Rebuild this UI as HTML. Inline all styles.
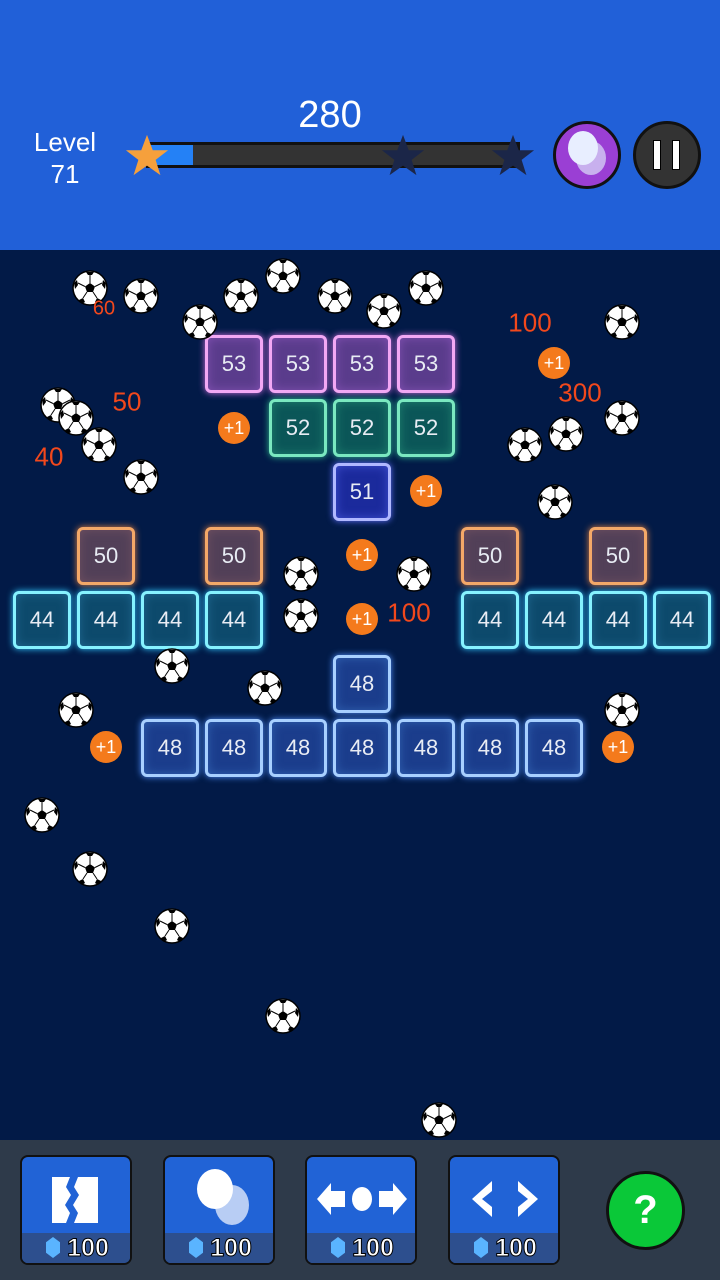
<!DOCTYPE html>
<html><head><meta charset="utf-8"><style>
*{margin:0;padding:0;box-sizing:border-box}
body{width:720px;height:1280px;position:relative;overflow:hidden;background:#021a47;font-family:"Liberation Sans",sans-serif}
#hdr{position:absolute;left:0;top:0;width:720px;height:250px;background:#2160d8}
#bot{position:absolute;left:0;top:1140px;width:720px;height:140px;background:#2e3a4a}
.a{position:absolute}
.b{position:absolute;width:58px;height:58px;border-radius:6px;border:3px solid;color:#e8ecf4;font-size:22px;text-align:center;line-height:52px}
.p{background:#5a3c8c;border-color:#f2a8f4;box-shadow:0 0 7px #d070e0, inset 0 0 10px #8050b0}
.t{background:#0b5658;border-color:#7ae8c0;box-shadow:0 0 7px #30c090, inset 0 0 10px #208070}
.u{background:#1b2a9c;border-color:#b0b8ff;box-shadow:0 0 7px #6070ff, inset 0 0 10px #4050d0}
.o{background:#524058;border-color:#f4a868;box-shadow:0 0 7px #e08040, inset 0 0 10px #705060}
.c{background:#0d4a6c;border-color:#86f2ff;box-shadow:0 0 7px #30c8ff, inset 0 0 10px #206890}
.l{background:#1b3d8c;border-color:#a8d0ff;box-shadow:0 0 7px #5090ff, inset 0 0 10px #3060b0}
.pl{position:absolute;width:32px;height:32px;border-radius:50%;background:#f47a1c;color:#fff;font-size:18px;text-align:center;line-height:32px;margin:-16px 0 0 -16px}
.r{position:absolute;color:#f2481c;font-size:26px;transform:translate(-50%,-50%)}
.ball{position:absolute;width:36px;height:36px;margin:-18px 0 0 -18px}
.btn{position:absolute;top:1155px;width:112px;height:110px;border:2px solid #111;border-radius:8px;background:#2163d6;overflow:hidden}
.btn .pr{position:absolute;left:0;bottom:0;width:100%;height:30px;background:#2d4f8e;color:#fff;font-size:25px;font-weight:bold;text-align:center;line-height:30px;-webkit-text-stroke:1px #000;padding-left:24px}
.gem{position:absolute;left:24px;bottom:5px;width:14px;height:21px;background:#5ab4ff;clip-path:polygon(50% 0,100% 25%,100% 75%,50% 100%,0 75%,0 25%);z-index:2}
</style></head><body>
<svg width="0" height="0" style="position:absolute"><defs>
<g id="sb"><circle cx="18" cy="18" r="17" fill="#fff" stroke="#000" stroke-width="1.5"/>
<polygon points="18,13 23,16.5 21,22 15,22 13,16.5" fill="#000"/>
<path d="M14,2 L22,2 L20,5 L16,5Z M2,13 L5,10 L6,15 L3,19Z M34,13 L31,10 L30,15 L33,19Z M7,30 L11,28 L13,32 L10,34Z M29,30 L25,28 L23,32 L26,34Z" fill="#000"/>
<path d="M18,13 L18,5 M23,16.5 L30,13 M21,22 L25,28 M15,22 L11,28 M13,16.5 L6,13" stroke="#000" stroke-width="1"/></g></defs></svg>
<div id="hdr"></div>
<div class="a" style="left:32px;top:126px;color:#fff;font-size:26px;text-align:center;line-height:32px;width:66px">Level<br>71</div>
<div class="a" style="left:0;top:94px;width:660px;text-align:center;color:#fff;font-size:38px">280</div>
<div class="a" style="left:146px;top:142px;width:374px;height:26px;background:#333;border:3px solid #111"></div>
<div class="a" style="left:149px;top:145px;width:44px;height:20px;background:#2481f6"></div>
<svg class="a" style="left:124px;top:133px" width="46" height="46" viewBox="0 0 24 24"><polygon points="12,1 15,9 23,9 16.5,14 19,22 12,17 5,22 7.5,14 1,9 9,9" fill="#f6a03c"/></svg>
<svg class="a" style="left:380px;top:133px" width="46" height="46" viewBox="0 0 24 24"><polygon points="12,1 15,9 23,9 16.5,14 19,22 12,17 5,22 7.5,14 1,9 9,9" fill="#1b2648"/></svg>
<svg class="a" style="left:490px;top:133px" width="46" height="46" viewBox="0 0 24 24"><polygon points="12,1 15,9 23,9 16.5,14 19,22 12,17 5,22 7.5,14 1,9 9,9" fill="#1b2648"/></svg>
<div class="a" style="left:553px;top:121px;width:68px;height:68px;border-radius:50%;background:#9a3fd4;border:3px solid #111"></div>
<div class="a" style="left:576px;top:141px;width:30px;height:34px;border-radius:50%;background:#c8b0ee"></div>
<div class="a" style="left:568px;top:131px;width:30px;height:34px;border-radius:50%;background:#e8eeff"></div>
<div class="a" style="left:633px;top:121px;width:68px;height:68px;border-radius:50%;background:#333;border:3px solid #111"></div>
<div class="a" style="left:653px;top:140px;width:8px;height:30px;background:#fff;border:1px solid #000"></div>
<div class="a" style="left:672px;top:140px;width:8px;height:30px;background:#fff;border:1px solid #000"></div>

<div class="b p" style="left:205px;top:335px">53</div><div class="b p" style="left:269px;top:335px">53</div><div class="b p" style="left:333px;top:335px">53</div><div class="b p" style="left:397px;top:335px">53</div>
<div class="b t" style="left:269px;top:399px">52</div><div class="b t" style="left:333px;top:399px">52</div><div class="b t" style="left:397px;top:399px">52</div>
<div class="b u" style="left:333px;top:463px">51</div>
<div class="b o" style="left:77px;top:527px">50</div><div class="b o" style="left:205px;top:527px">50</div><div class="b o" style="left:461px;top:527px">50</div><div class="b o" style="left:589px;top:527px">50</div>
<div class="b c" style="left:13px;top:591px">44</div><div class="b c" style="left:77px;top:591px">44</div><div class="b c" style="left:141px;top:591px">44</div><div class="b c" style="left:205px;top:591px">44</div><div class="b c" style="left:461px;top:591px">44</div><div class="b c" style="left:525px;top:591px">44</div><div class="b c" style="left:589px;top:591px">44</div><div class="b c" style="left:653px;top:591px">44</div>
<div class="b l" style="left:333px;top:655px">48</div>
<div class="b l" style="left:141px;top:719px">48</div><div class="b l" style="left:205px;top:719px">48</div><div class="b l" style="left:269px;top:719px">48</div><div class="b l" style="left:333px;top:719px">48</div><div class="b l" style="left:397px;top:719px">48</div><div class="b l" style="left:461px;top:719px">48</div><div class="b l" style="left:525px;top:719px">48</div>

<div class="pl" style="left:234px;top:428px">+1</div><div class="pl" style="left:554px;top:363px">+1</div><div class="pl" style="left:426px;top:491px">+1</div><div class="pl" style="left:362px;top:555px">+1</div><div class="pl" style="left:362px;top:619px">+1</div><div class="pl" style="left:106px;top:747px">+1</div><div class="pl" style="left:618px;top:747px">+1</div>

<svg class="ball" style="left:90px;top:288px"><use href="#sb"/></svg>
<svg class="ball" style="left:141px;top:296px"><use href="#sb"/></svg>
<svg class="ball" style="left:241px;top:296px"><use href="#sb"/></svg>
<svg class="ball" style="left:283px;top:276px"><use href="#sb"/></svg>
<svg class="ball" style="left:335px;top:296px"><use href="#sb"/></svg>
<svg class="ball" style="left:384px;top:311px"><use href="#sb"/></svg>
<svg class="ball" style="left:426px;top:288px"><use href="#sb"/></svg>
<svg class="ball" style="left:200px;top:322px"><use href="#sb"/></svg>
<svg class="ball" style="left:622px;top:322px"><use href="#sb"/></svg>
<svg class="ball" style="left:58px;top:405px"><use href="#sb"/></svg>
<svg class="ball" style="left:76px;top:418px"><use href="#sb"/></svg>
<svg class="ball" style="left:99px;top:445px"><use href="#sb"/></svg>
<svg class="ball" style="left:141px;top:477px"><use href="#sb"/></svg>
<svg class="ball" style="left:566px;top:434px"><use href="#sb"/></svg>
<svg class="ball" style="left:525px;top:445px"><use href="#sb"/></svg>
<svg class="ball" style="left:622px;top:418px"><use href="#sb"/></svg>
<svg class="ball" style="left:555px;top:502px"><use href="#sb"/></svg>
<svg class="ball" style="left:301px;top:574px"><use href="#sb"/></svg>
<svg class="ball" style="left:414px;top:574px"><use href="#sb"/></svg>
<svg class="ball" style="left:301px;top:616px"><use href="#sb"/></svg>
<svg class="ball" style="left:172px;top:666px"><use href="#sb"/></svg>
<svg class="ball" style="left:265px;top:688px"><use href="#sb"/></svg>
<svg class="ball" style="left:76px;top:710px"><use href="#sb"/></svg>
<svg class="ball" style="left:622px;top:710px"><use href="#sb"/></svg>
<svg class="ball" style="left:42px;top:815px"><use href="#sb"/></svg>
<svg class="ball" style="left:90px;top:869px"><use href="#sb"/></svg>
<svg class="ball" style="left:172px;top:926px"><use href="#sb"/></svg>
<svg class="ball" style="left:283px;top:1016px"><use href="#sb"/></svg>
<svg class="ball" style="left:439px;top:1120px"><use href="#sb"/></svg>

<div class="r" style="left:104px;top:309px;font-size:20px">60</div>
<div class="r" style="left:530px;top:323px">100</div>
<div class="r" style="left:127px;top:402px">50</div>
<div class="r" style="left:580px;top:393px">300</div>
<div class="r" style="left:49px;top:457px">40</div>
<div class="r" style="left:409px;top:613px">100</div>

<div id="bot"></div>
<div class="btn" style="left:20px"><svg class="a" style="left:28px;top:16px" width="52" height="52" viewBox="0 0 52 52"><polygon points="2,4 20,4 16,14 21,22 15,32 20,40 16,50 2,50" fill="#fff"/><polygon points="28,4 48,4 48,50 24,50 28,40 23,32 29,22 24,14" fill="#fff"/></svg><div class="pr">100</div><div class="gem"></div></div>
<div class="btn" style="left:163px"><div class="a" style="left:50px;top:28px;width:34px;height:40px;border-radius:50%;background:#b8cdf4"></div><div class="a" style="left:32px;top:12px;width:36px;height:40px;border-radius:50%;background:#fff"></div><div class="pr">100</div><div class="gem"></div></div>
<div class="btn" style="left:305px"><svg class="a" style="left:8px;top:20px" width="94" height="44" viewBox="0 0 94 44"><polygon points="2,22 16,6 16,14 30,14 30,30 16,30 16,38" fill="#fff"/><ellipse cx="47" cy="22" rx="10" ry="12" fill="#fff"/><polygon points="92,22 78,6 78,14 64,14 64,30 78,30 78,38" fill="#fff"/></svg><div class="pr">100</div><div class="gem"></div></div>
<div class="btn" style="left:448px"><svg class="a" style="left:20px;top:20px" width="70" height="44" viewBox="0 0 70 44"><polygon points="2,22 22,4 22,14 12,22 22,30 22,40" fill="#fff"/><polygon points="68,22 48,4 48,14 58,22 48,30 48,40" fill="#fff"/></svg><div class="pr">100</div><div class="gem"></div></div>
<div class="a" style="left:606px;top:1171px;width:79px;height:79px;border-radius:50%;background:#0ac838;border:3px solid #111;color:#fff;font-size:40px;font-weight:bold;text-align:center;line-height:72px">?</div>
</body></html>
